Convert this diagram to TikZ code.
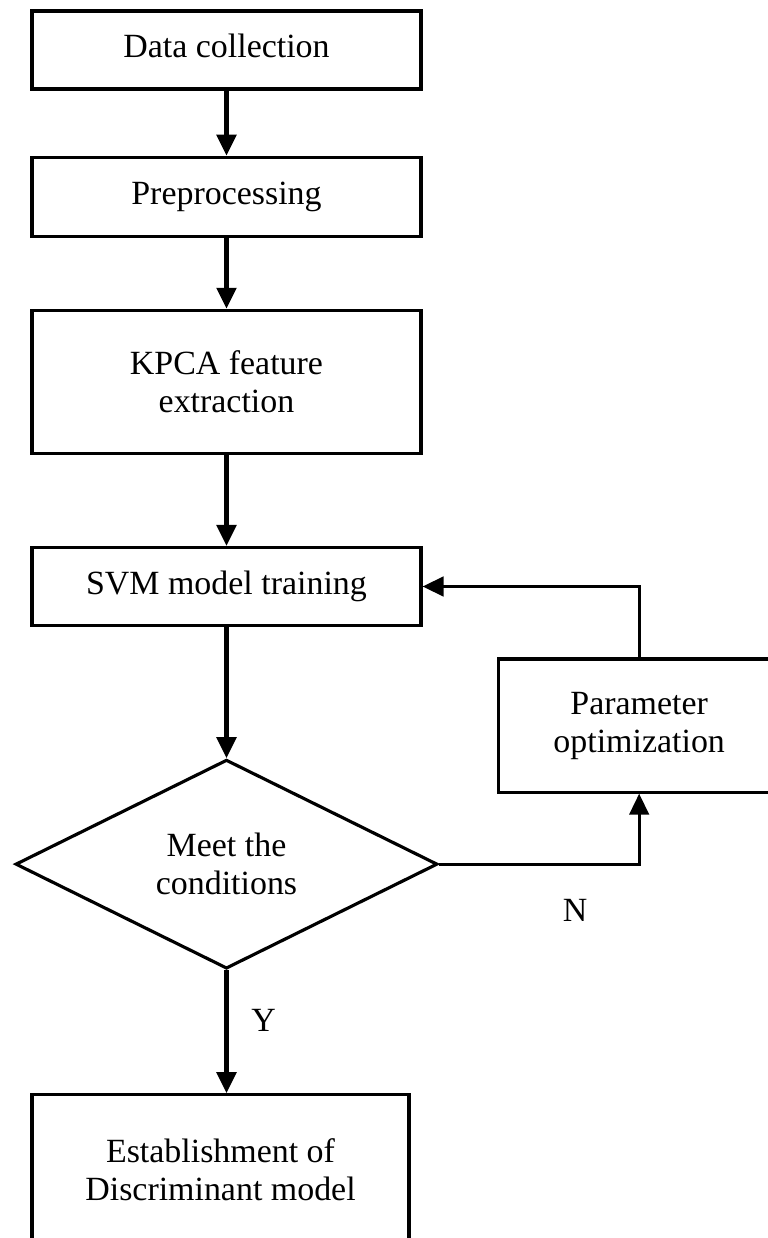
\documentclass[tikz,border=0pt]{standalone}
\usepackage{fontspec}
\setmainfont{Liberation Serif}
\usepackage{tikz}
\usetikzlibrary{arrows.meta,positioning,shapes.geometric}
\tikzset{
  proc/.style={draw, line width=1.8pt, minimum width=7.78cm,
               minimum height=1.56cm, align=center, inner sep=0pt,
               font=\fontsize{19.3}{21.6}\selectfont},
  proc1/.style={proc, font=\fontsize{19.3}{21.6}\selectfont\strut},
  decide/.style={proc, diamond, minimum width=8.44cm, minimum height=4.18cm},
  flow/.style={line width=2.3pt, -{Triangle[length=4.2mm, width=3.9mm]}},
  back/.style={flow, line width=1.7pt},
  yn/.style={font=\fontsize{19.3}{21.6}\selectfont, inner sep=0pt},
}

\begin{document}
\begin{tikzpicture}
    \useasboundingbox (0,0) rectangle (15.36,-24.76);
    \node[proc1] (dc) at (4.53,-1.0) {Data collection};
    \node[proc1, below=1.30cm of dc, minimum height=1.58cm] (pre) {Preprocessing};
    \node[proc, below=1.42cm of pre, minimum height=2.86cm] (kpca) {KPCA feature\\extraction};
    \node[proc1, below=1.82cm of kpca] (svm) {SVM model training};
    \node[decide, below=2.62cm of svm] (cond) {Meet the\\conditions};
    \node[proc, below=2.46cm of cond, xshift=-0.12cm, minimum width=7.54cm,
          minimum height=3.0cm] (est) {Establishment of\\Discriminant model};
    \node[proc, below right=1.42cm and 1.48cm of svm.east, minimum width=5.64cm,
          minimum height=2.66cm] (par) {Parameter\\optimization};

    \draw[flow] (dc) -- (pre);
    \draw[flow] (pre) -- (kpca);
    \draw[flow] (kpca) -- (svm);
    \draw[flow] (svm) -- (cond);
    \draw[flow] (cond.south) -- node[yn, pos=0.41, xshift=0.74cm] {Y} (cond.south |- est.north);
    % feedback loop
    \draw[back] (cond.east) -| node[yn, pos=0.34, yshift=-0.92cm] {N} (par.south);
    \draw[back] (par.north) |- (svm.east);
\end{tikzpicture}
\end{document}
